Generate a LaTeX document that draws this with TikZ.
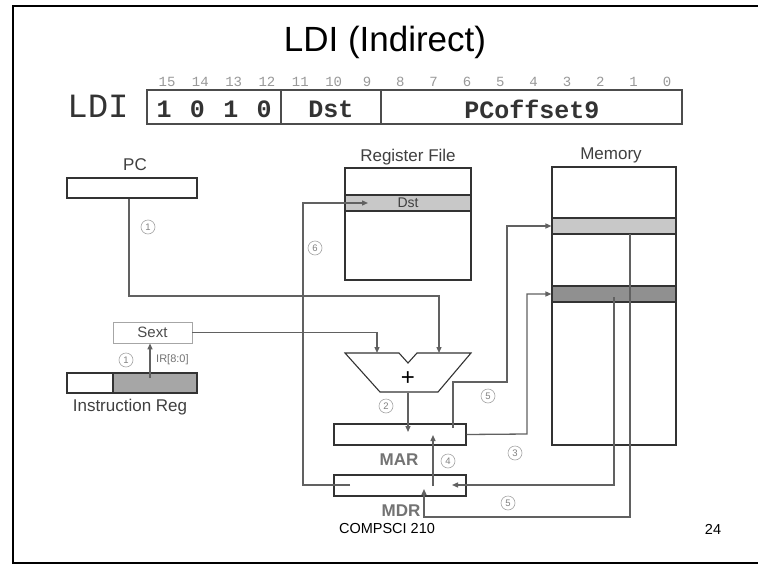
\documentclass[tikz,border=0pt]{standalone}
\usepackage{fontspec}
\setmainfont{Liberation Sans}
\setmonofont{Liberation Mono}
\usetikzlibrary{arrows.meta}
\definecolor{lgray}{HTML}{C8C8C8}
\definecolor{dgray}{HTML}{909090}
\definecolor{irgray}{HTML}{A6A6A6}
\begin{document}
\begin{tikzpicture}[x=1pt,y=-1pt,
  box/.style={draw=black!80, line width=1.1pt, inner sep=0pt},
  conn/.style={draw=black!62, line width=1.3pt},
  arr/.style={conn, -{Triangle[length=6pt,width=5pt]}},
  num/.style={circle, draw=black!35, line width=0.6pt, inner sep=0pt, minimum size=14pt, text=black!50, font=\fontsize{9.5}{9.5}\selectfont},
  lbl/.style={text=black!75, font=\fontsize{17}{17}\selectfont, inner sep=0pt},
  reglbl/.style={text=black!55, font=\bfseries\fontsize{17}{17}\selectfont, inner sep=0pt},
  bitnum/.style={text=black!40, font=\ttfamily\fontsize{14}{14}\selectfont, inner sep=0pt},
  field/.style={text=black!80, font=\ttfamily\bfseries\fontsize{25}{25}\selectfont, inner sep=0pt},
]
\useasboundingbox (0,0) rectangle (758,565);
\fill[white] (0,0) rectangle (758,565);
\draw[line width=2pt] (762,6) -- (13,6) -- (13,563) -- (762,563);

% title
\node[font=\fontsize{35}{40}\selectfont, inner sep=0pt] (title) at (385,42) {LDI (Indirect)};

% instruction format
\node[font=\ttfamily\fontsize{34}{34}\selectfont, text=black!80, inner sep=0pt] (ldi) at (98,106) {LDI};
\node[draw=black!70, line width=1.1pt, minimum width=535pt, minimum height=34pt, inner sep=0pt] (instr) at (414.5,107) {};
\draw[draw=black!70, line width=1.1pt] (281,90) -- (281,124) (381,90) -- (381,124);
\foreach \i in {0,...,15} \node[bitnum] at ({167+(15-\i)*33.33},82) {\i};
\foreach \d [count=\k from 0] in {1,0,1,0} \node[field] at ({164+\k*33.4},109) {\d};
\node[field] (fdst) at (331,109) {Dst};
\node[field] (foff) at (532,109) {PCoffset9};

% PC
\node[lbl] (pclbl) at (135,165) {PC};
\node[box, minimum width=130pt, minimum height=20pt] (pc) at (132,188) {};

% Sext and IR
\node[draw=black!35, line width=0.8pt, minimum width=79pt, minimum height=21pt, inner sep=0pt, font=\fontsize{15}{15}\selectfont, text=black!70] (sext) at (152.5,332.5) {Sext};
\node[box, minimum width=130pt, minimum height=20pt] (ir) at (132,383) {};
\fill[irgray] (113,373) rectangle (197,393);
\draw[draw=black!80, line width=1.1pt] (67,373) rectangle (197,393) (113,373) -- (113,393);
\node[lbl] (irlbl) at (130,407) {Instruction Reg};
\node[text=black!55, font=\fontsize{11}{11}\selectfont, inner sep=0pt, anchor=west] (irbits) at (156,360) {IR[8:0]};

% register file
\node[lbl] (rflbl) at (408,157) {Register File};
\node[box, minimum width=126pt, minimum height=112pt] (rf) at (408,224) {};
\node[box, fill=lgray, minimum width=126pt, minimum height=16pt, font=\fontsize{14}{14}\selectfont, text=black!75] (rfdst) at (408,203) {Dst};

% memory
\node[lbl] (memlbl) at (611,155) {Memory};
\node[box, minimum width=124pt, minimum height=278pt] (mem) at (614,306) {};
\node[box, fill=lgray, minimum width=124pt, minimum height=16pt] (meml) at (614,226) {};
\node[box, fill=dgray, minimum width=124pt, minimum height=16pt] (memd) at (614,294) {};

% adder
\draw[draw=black!80, line width=1.1pt, fill=white] (345,353) -- (399,353) -- (408,363) -- (417,353) -- (471,353) -- (438,392) -- (380,392) -- cycle;
\node[font=\fontsize{24}{24}\selectfont, inner sep=0pt] (plus) at (408,379) {+};
\coordinate (addl) at (377,353);
\coordinate (addr) at (439,353);
\coordinate (addout) at (408,393);

% MAR, MDR
\node[box, minimum width=132pt, minimum height=21pt] (mar) at (400,434.5) {};
\node[box, minimum width=132pt, minimum height=21pt] (mdr) at (400,485.5) {};
\node[reglbl] (marlbl) at (399,460) {MAR};
\node[reglbl] (mdrlbl) at (401,511) {MDR};

% connectors
\draw[arr] ([xshift=-3pt]pc.south) |- (439,296) -- (addr);
\draw[arr] (sext.east) -| (addl);
\draw[arr] (150,378) -- (sext.south -| 150,0);
\draw[arr] (addout) -- (408,432);
\draw[arr] (453,428) -- (453,382) -- (507,382) |- (meml.west);
\draw[arr] (mar.east) -- (527,434) |- (memd.west);
\draw[arr] (614,297) |- (452,485);
\draw[arr] (630,234) |- (424,517) -- (424,489);
\draw[arr] (433,486) -- (433,435);
\draw[arr] (350,485) -- (303,485) |- (368,203);

% step numbers
\node[num] at (148,227) {1};
\node[num] at (126,360) {1};
\node[num] at (386,406) {2};
\node[num] at (515,453) {3};
\node[num] at (448,461) {4};
\node[num] at (488,396) {5};
\node[num] at (508,503) {5};
\node[num] at (315,248) {6};

% footer
\node[font=\fontsize{14.5}{15}\selectfont, inner sep=0pt] (foot) at (387,529) {COMPSCI 210};
\node[font=\fontsize{14.5}{15}\selectfont, inner sep=0pt] (page) at (713,529) {24};
\end{tikzpicture}
\end{document}
